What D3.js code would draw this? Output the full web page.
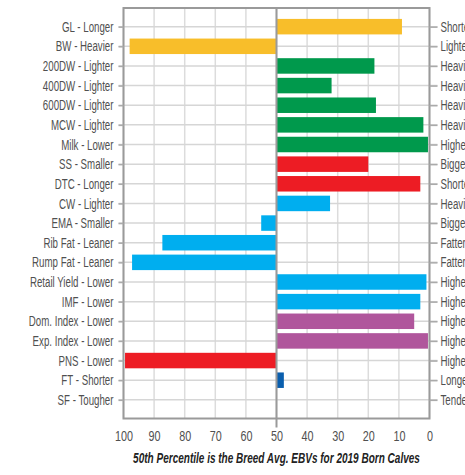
<!DOCTYPE html>
<html><head><meta charset="utf-8">
<script src="https://cdn.jsdelivr.net/npm/d3@7"></script>
<style>
html,body{margin:0;padding:0;background:#fff;overflow:hidden;}
text{font-family:"Liberation Sans",Arial,sans-serif;}
</style></head>
<body><svg id="c" width="465" height="475"></svg>
<script>
const categories = ["GL - Longer","BW - Heavier","200DW - Lighter","400DW - Lighter","600DW - Lighter","MCW - Lighter","Milk - Lower","SS - Smaller","DTC - Longer","CW - Lighter","EMA - Smaller","Rib Fat - Leaner","Rump Fat - Leaner","Retail Yield - Lower","IMF - Lower","Dom. Index - Lower","Exp. Index - Lower","PNS - Lower","FT - Shorter","SF - Tougher"];
const rightLabels = ["Shorter","Lighter","Heavier","Heavier","Heavier","Heavier","Higher","Bigger","Shorter","Heavier","Bigger","Fatter","Fatter","Higher","Higher","Higher","Higher","Higher","Longer","Tender"];
const percentiles = [9, 98, 18, 32, 17.5, 2, 0.5, 20, 3, 32.5, 55, 87.3, 97.2, 1, 3, 5, 0.5, 99.5, 47.6, 50];
const groups = ["calving","calving","growth","growth","growth","growth","growth","fertility","fertility","carcase","carcase","carcase","carcase","carcase","carcase","index","index","fertility","feed","tender"];
const groupColors = {calving:"#F8BE2A",growth:"#00994C",fertility:"#ED1C24",carcase:"#00AEEF",index:"#B0569C",feed:"#0A5FAE",tender:"#888"};
const xTicks = [100,90,80,70,60,50,40,30,20,10,0];
const title = "50th Percentile is the Breed Avg. EBVs for 2019 Born Calves";

const svg = d3.select("#c");
const L = 123.5, R = 429.5, T = 8, B = 418.5;
const x = d3.scaleLinear().domain([100,0]).range([L,R]);
const y = d3.scalePoint().domain(categories).range([T,B]).padding(0.95);
const barH = 15.5;
const K = 0.67;

function condense(sel, k){
  sel.each(function(){
    const t = d3.select(this);
    const xv = +(t.attr("x") || 0);
    t.attr("x", xv / k).attr("transform", `scale(${k},1)`);
  });
}

// vertical gridlines
svg.append("g").selectAll("line").data(xTicks).join("line")
  .attr("x1",d=>x(d)).attr("x2",d=>x(d)).attr("y1",T).attr("y2",B)
  .attr("stroke","#dcdcdc").attr("stroke-width",1.5);
// horizontal gridlines
svg.append("g").selectAll("line").data(categories).join("line")
  .attr("x1",L-5).attr("x2",R+8).attr("y1",d=>y(d)).attr("y2",d=>y(d))
  .attr("stroke","#d6d6d6").attr("stroke-width",1.5);

// bars
svg.append("g").selectAll("rect").data(categories).join("rect")
  .attr("x",(d,i)=>Math.min(x(percentiles[i]),x(50)))
  .attr("width",(d,i)=>Math.abs(x(percentiles[i])-x(50)))
  .attr("y",d=>y(d)-barH/2).attr("height",barH)
  .attr("fill",(d,i)=>groupColors[groups[i]]);

// border
svg.append("rect").attr("x",L).attr("y",T).attr("width",R-L).attr("height",B-T)
  .attr("fill","none").attr("stroke","#9a9a9a").attr("stroke-width",2);
// center axis
svg.append("line").attr("x1",x(50)).attr("x2",x(50)).attr("y1",T).attr("y2",B+9)
  .attr("stroke","#9a9a9a").attr("stroke-width",2);

// left labels via axis
const yl = svg.append("g").attr("transform",`translate(${L},0)`)
  .call(d3.axisLeft(y).tickSize(5).tickPadding(5));
yl.select(".domain").remove();
yl.selectAll("line").attr("stroke","#aaa").attr("stroke-width",1.5);
yl.selectAll("text").attr("font-size",14.5).attr("fill","#505050").call(condense, K);

// right labels
const yr = d3.scalePoint().domain(d3.range(categories.length)).range([T,B]).padding(0.95);
const ra = svg.append("g").attr("transform",`translate(${R},0)`)
  .call(d3.axisRight(yr).tickSize(8).tickPadding(3).tickFormat(i=>rightLabels[i]));
ra.select(".domain").remove();
ra.selectAll("line").attr("stroke","#aaa").attr("stroke-width",1.5);
ra.selectAll("text").attr("font-size",14.5).attr("fill","#505050").call(condense, K);

// x axis labels
const xa = svg.append("g").attr("transform",`translate(0,${B})`)
  .call(d3.axisBottom(x).tickValues(xTicks).tickSize(0).tickPadding(12).tickFormat(d3.format("d")));
xa.select(".domain").remove();
xa.selectAll("line").remove();
xa.selectAll(".tick text").attr("font-size",15).attr("fill","#505050")
  .attr("text-anchor","middle").attr("transform","scale(0.72,1)");

// title
const tt = svg.append("text").attr("y",463).attr("text-anchor","middle")
  .attr("font-size",14.5).attr("font-weight","bold").attr("font-style","italic").attr("fill","#222")
  .text(title);
const tk = 287 / tt.node().getComputedTextLength();
tt.attr("x", x(50) / tk).attr("transform", `scale(${tk},1)`);
</script></body></html>
